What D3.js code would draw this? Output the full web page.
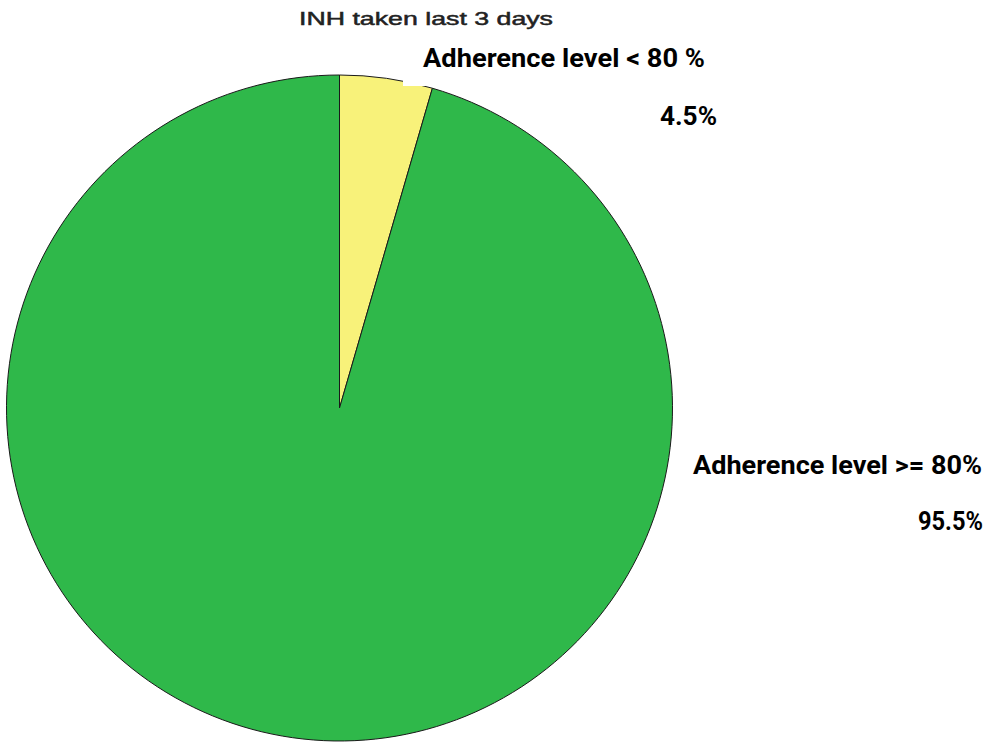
<!DOCTYPE html>
<html>
<head>
<meta charset="utf-8">
<script src="https://cdn.jsdelivr.net/npm/d3@7"></script>
<style>
  html, body { margin: 0; padding: 0; background: #fff; }
  svg { display: block; }
</style>
</head>
<body>
<svg id="chart" width="995" height="744"></svg>
<script>
// INH adherence over the last 3 days
const categories = ["Adherence level < 80 %", "Adherence level >= 80%"];
const values = [4.5, 95.5];
const valueLabels = ["4.5%", "95.5%"];
const colors = ["#f8f27a", "#2fb84a"];
const title = "INH taken last 3 days";

const svg = d3.select("#chart");
const cx = 339.5, cy = 408, r = 333;

const pie = d3.pie().sort(null).value(d => d.v);
const arcs = pie(values.map((v, i) => ({ v, name: categories[i], color: colors[i] })));
const arc = d3.arc().innerRadius(0).outerRadius(r);

const g = svg.append("g").attr("transform", `translate(${cx},${cy})`);
g.selectAll("path")
  .data(arcs)
  .join("path")
  .attr("d", arc)
  .attr("fill", d => d.data.color)
  .attr("stroke", "#1a1a1a")
  .attr("stroke-width", 1);

// Title
svg.append("text")
  .attr("x", 299).attr("y", 25)
  .attr("font-family", "Liberation Sans, Arial, sans-serif")
  .attr("font-size", 19)
  .attr("fill", "#222")
  .attr("stroke", "#222")
  .attr("stroke-width", 0.5)
  .attr("textLength", 254)
  .attr("lengthAdjust", "spacingAndGlyphs")
  .text(title);

// Label for the small slice sits on a white box
svg.append("rect")
  .attr("x", 403).attr("y", 40).attr("width", 320).attr("height", 46)
  .attr("fill", "#fff");

const labelFont = "Roboto, Liberation Sans, sans-serif";
const labels = [
  { text: categories[0], x: 423, y: 67, w: 282 },
  { text: valueLabels[0], x: 660, y: 125, w: 57 },
  { text: categories[1], x: 693, y: 474, w: 289 },
  { text: valueLabels[1], x: 918, y: 530, w: 65 }
];
svg.selectAll("text.lbl")
  .data(labels)
  .join("text")
  .attr("class", "lbl")
  .attr("x", d => d.x).attr("y", d => d.y)
  .attr("font-family", labelFont)
  .attr("font-weight", "bold")
  .attr("font-size", 25)
  .attr("fill", "#000")
  .attr("textLength", d => d.w)
  .attr("lengthAdjust", "spacingAndGlyphs")
  .text(d => d.text);
</script>
</body>
</html>
